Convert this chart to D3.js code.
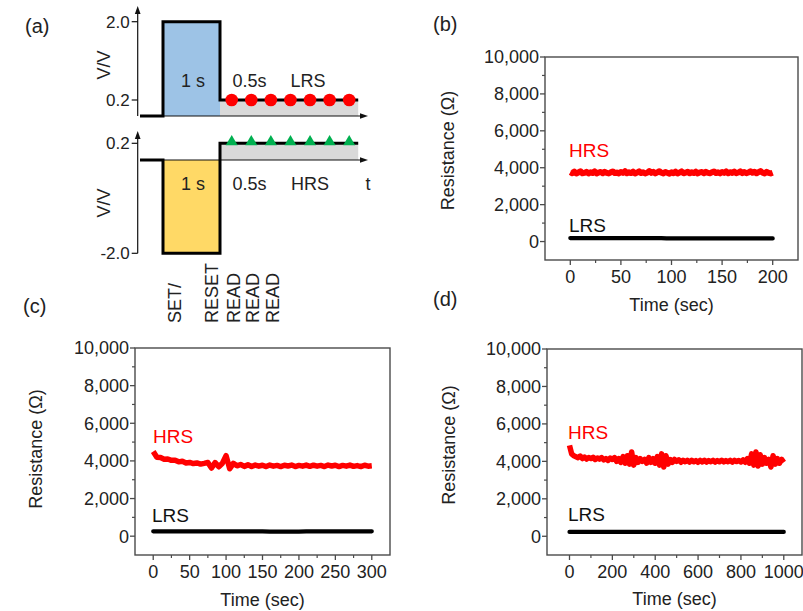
<!DOCTYPE html>
<html><head><meta charset="utf-8">
<script src="https://cdn.jsdelivr.net/npm/d3@7/dist/d3.min.js"></script>
<style>
body{margin:0;background:#fff}
svg{display:block;font-family:Arial,"Liberation Sans",Helvetica,sans-serif}
</style>
</head><body>
<svg id="chart" width="803" height="611"></svg>
<script>
// ---------------- DATA ----------------
// Panel (a): pulse schematic (time in s, voltage in V)
const setPulseT = [-0.6, 0, 0, 1, 1, 4.48];
const setPulseV = [0, 0, 2.0, 2.0, 0.2, 0.2];
const resetPulseT = [-0.6, 0, 0, 1, 1, 4.48];
const resetPulseV = [0, 0, -2.0, -2.0, 0.2, 0.2];
const readTimes = [1.25, 1.75, 2.25, 2.75, 3.25, 3.75, 4.25];
const readV = 0.2;
const upperTicks = [2.0, 0.2];
const upperTickLabels = ["2.0", "0.2"];
const lowerTicks = [0.2, -2.0];
const lowerTickLabels = ["0.2", "-2.0"];
const stepLabels = ["SET/", "RESET", "READ", "READ", "READ"];

// Resistance axes
const resTicks = [0, 2000, 4000, 6000, 8000, 10000];
const resMinor = [1000, 3000, 5000, 7000, 9000];

// Panel (b): 0-200 s
const timeTicksB = [0, 50, 100, 150, 200];
const timeMinorB = [25, 75, 125, 175];
const hrsStepB = 2;
const hrsB = [3760,3700,3790,3690,3740,3810,3700,3720,3780,3690,3760,3710,3800,3690,3740,3770,3700,3780,3720,3690,
              3750,3800,3710,3740,3690,3770,3720,3810,3700,3750,3710,3790,3690,3740,3800,3710,3760,3690,3730,3820,
              3720,3780,3690,3750,3810,3730,3690,3770,3720,3680,3750,3700,3790,3690,3740,3800,3700,3730,3780,3700,
              3760,3710,3790,3690,3750,3770,3700,3780,3720,3700,3750,3800,3710,3750,3690,3770,3720,3800,3700,3760,
              3720,3790,3700,3740,3800,3710,3770,3700,3740,3810,3730,3780,3700,3760,3820,3730,3690,3780,3720,3690,3730];
const lrsTimeB = [0, 90, 95, 200];
const lrsB = [190, 190, 170, 170];

// Panel (c): 0-300 s
const timeTicksC = [0, 50, 100, 150, 200, 250, 300];
const timeMinorC = [25, 75, 125, 175, 225, 275];
const hrsStepC = 5;
const hrsC = [4500,4200,4180,4090,4100,4030,4040,3950,3980,3890,3920,3860,3890,3830,3870,3920,3620,3910,3690,3880,
              4280,3580,3870,3740,3810,3710,3790,3700,3780,3720,3770,3700,3780,3720,3760,3700,3770,3730,3780,3700,
              3760,3720,3780,3710,3770,3720,3760,3700,3780,3730,3770,3700,3760,3720,3780,3710,3750,3700,3770,3720,3740];
const lrsTimeC = [0, 150, 160, 200, 210, 300];
const lrsC = [260, 260, 240, 240, 260, 260];

// Panel (d): 0-1000 s
const timeTicksD = [0, 200, 400, 600, 800, 1000];
const timeMinorD = [100, 300, 500, 700, 900];
const hrsStepD = 10;
const hrsD = [4850,4400,4300,4250,4200,4280,4150,4230,4120,4200,4150,4220,4100,4180,4120,4200,4080,4150,4050,4180,
              4100,4200,4000,4150,3950,4250,3900,4300,3850,4500,3800,4200,3950,4150,4000,4100,3900,4200,3950,4150,
              3900,4250,3800,4400,3700,4300,3850,4100,3950,4100,4000,4080,3950,4060,3980,4050,3960,4060,3980,4040,
              3950,4050,3970,4060,3960,4040,3980,4050,3960,4040,3980,4060,3970,4040,3980,4050,3960,4060,3990,4050,
              3970,4080,3950,4150,3900,4400,3800,4500,3750,4350,3850,4200,3900,4100,3700,4300,3850,4150,3900,4100,3950];
const lrsTimeD = [0, 1000];
const lrsD = [230, 230];

// ---------------- DRAW ----------------
const svg = d3.select("#chart");
const ink = "#222";
const frameCol = "#4a4a4a";

// Panel (a)
const ga = svg.append("g");
ga.append("text").attr("x", 25).attr("y", 33).attr("font-size", 20).attr("fill", ink).text("(a)");

const tx = d3.scaleLinear().domain([-0.6, 0, 1, 1.25, 4.73]).range([140, 163, 220, 231.7, 368]);
const yUp = d3.scaleLinear().domain([0, 0.2, 2.0]).range([116, 100, 21.7]);
const yLo = d3.scaleLinear().domain([-2.0, 0, 0.2]).range([253.3, 160, 143.3]);
const axisX = 137.7;

function arrowHead(g, x, y, dir) {
  const s = 4, l = 8;
  let pts;
  if (dir === "up") pts = [[x, y], [x - s / 1.4, y + l], [x + s / 1.4, y + l]];
  else pts = [[x, y], [x - l, y - s / 1.4], [x - l, y + s / 1.4]];
  g.append("path").attr("d", d3.line()(pts) + "Z").attr("fill", "#111");
}

function drawWave(g, ys, T, V, fillCol, yTop, yBottomAxis, ticks, tickLabels, markerType) {
  const pulse = d3.area().x(d => tx(d[0])).y0(ys(0)).y1(d => ys(d[1]));
  g.append("path").attr("d", pulse([[0, V[2]], [1, V[3]]])).attr("fill", fillCol);
  g.append("path").attr("d", pulse([[1, V[4]], [T[5], V[5]]])).attr("fill", "#d9d9d9");
  g.append("line").attr("x1", axisX).attr("x2", axisX).attr("y1", yBottomAxis).attr("y2", yTop + 6)
    .attr("stroke", "#111").attr("stroke-width", 1.2);
  arrowHead(g, axisX, yTop, "up");
  g.append("line").attr("x1", 140).attr("x2", 362).attr("y1", ys(0)).attr("y2", ys(0))
    .attr("stroke", "#111").attr("stroke-width", 1.2);
  arrowHead(g, 368, ys(0), "right");
  ticks.forEach((v, i) => {
    g.append("line").attr("x1", axisX - 6).attr("x2", axisX).attr("y1", ys(v)).attr("y2", ys(v))
      .attr("stroke", "#111").attr("stroke-width", 1.2);
    g.append("text").attr("x", axisX - 8).attr("y", ys(v)).attr("dy", "0.35em")
      .attr("text-anchor", "end").attr("font-size", 17).attr("fill", ink).text(tickLabels[i]);
  });
  const line = d3.line().x((d, i) => tx(T[i])).y((d, i) => ys(V[i]));
  g.append("path").attr("d", line(T)).attr("fill", "none").attr("stroke", "#000")
    .attr("stroke-width", 3).attr("stroke-linejoin", "miter");
  readTimes.forEach(t => {
    if (markerType === "circle") {
      g.append("circle").attr("cx", tx(t)).attr("cy", ys(readV)).attr("r", 6.3).attr("fill", "#ff0000");
    } else {
      g.append("path").attr("d", d3.symbol().type(d3.symbolTriangle).size(62)())
        .attr("transform", `translate(${tx(t)},${ys(readV) - 1.5})`).attr("fill", "#00b050");
    }
  });
}

drawWave(ga, yUp, setPulseT, setPulseV, "#9dc3e6", 6, yUp(0), upperTicks, upperTickLabels, "circle");
drawWave(ga, yLo, resetPulseT, resetPulseV, "#ffd966", 131, yLo(-2.0), lowerTicks, lowerTickLabels, "triangle");

const annot = [
  {t: "1 s", x: 193, y: 87}, {t: "0.5s", x: 249.5, y: 87}, {t: "LRS", x: 308, y: 87},
  {t: "1 s", x: 193, y: 190}, {t: "0.5s", x: 249.5, y: 190}, {t: "HRS", x: 310, y: 190}
];
annot.forEach(a => ga.append("text").attr("x", a.x).attr("y", a.y).attr("text-anchor", "middle")
  .attr("font-size", 18).attr("fill", ink).text(a.t));
ga.append("text").attr("x", 368).attr("y", 190).attr("text-anchor", "middle").attr("font-size", 18).attr("fill", ink).text("t");
[[104, 65], [104, 203]].forEach(p => ga.append("text")
  .attr("transform", `translate(${p[0]},${p[1]}) rotate(-90)`).attr("text-anchor", "middle").attr("dy", "0.35em")
  .attr("font-size", 18).attr("fill", ink).text("V/V"));
const stepX = [175, 212, 233.5, 253, 272.5];
stepLabels.forEach((s, i) => ga.append("text")
  .attr("transform", `translate(${stepX[i]},323) rotate(-90)`).attr("dy", "0.35em")
  .attr("font-size", 18).attr("fill", ink).text(s));

// Resistance panels
function panel(o) {
  const g = svg.append("g");
  const x = d3.scaleLinear().domain(o.xDomain).range([o.x0, o.x1]);
  const y = d3.scaleLinear().domain([-1000, 10000]).range([o.y1, o.y0]);
  g.append("text").attr("x", o.tag[0]).attr("y", o.tag[1]).attr("font-size", 20).attr("fill", ink).text(o.tagText);

  const hrsLine = d3.line().x((d, i) => x(i * o.step)).y(d => y(d));
  g.append("path").attr("d", hrsLine(o.hrs)).attr("fill", "none").attr("stroke", "#ff0000")
    .attr("stroke-width", o.hrsW).attr("stroke-linejoin", "round");
  const lrsLine = d3.line().x((d, i) => x(o.lrsT[i])).y(d => y(d));
  g.append("path").attr("d", lrsLine(o.lrs)).attr("fill", "none").attr("stroke", "#000")
    .attr("stroke-width", 4.2).attr("stroke-linecap", "round");

  g.append("rect").attr("x", o.x0).attr("y", o.y0).attr("width", o.x1 - o.x0).attr("height", o.y1 - o.y0)
    .attr("fill", "none").attr("stroke", frameCol).attr("stroke-width", 1.4);
  resTicks.forEach(v => {
    g.append("line").attr("x1", o.x0 - 5).attr("x2", o.x0).attr("y1", y(v)).attr("y2", y(v)).attr("stroke", frameCol).attr("stroke-width", 1.3);
    g.append("text").attr("x", o.x0 - 6).attr("y", y(v)).attr("dy", "0.36em").attr("text-anchor", "end")
      .attr("font-size", 18).attr("fill", ink).text(d3.format(",")(v));
  });
  resMinor.forEach(v => g.append("line").attr("x1", o.x0 - 3).attr("x2", o.x0).attr("y1", y(v)).attr("y2", y(v))
    .attr("stroke", frameCol).attr("stroke-width", 1.2));
  o.xTicks.forEach(v => {
    g.append("line").attr("x1", x(v)).attr("x2", x(v)).attr("y1", o.y1).attr("y2", o.y1 + 5).attr("stroke", frameCol).attr("stroke-width", 1.3);
    g.append("text").attr("x", x(v)).attr("y", o.y1 + 23).attr("text-anchor", "middle")
      .attr("font-size", 18).attr("fill", ink).text(v);
  });
  o.xMinor.forEach(v => g.append("line").attr("x1", x(v)).attr("x2", x(v)).attr("y1", o.y1).attr("y2", o.y1 + 3)
    .attr("stroke", frameCol).attr("stroke-width", 1.2));

  g.append("text").attr("transform", `translate(${o.yl[0]},${o.yl[1]}) rotate(-90)`).attr("dy", "0.35em")
    .attr("text-anchor", "middle").attr("font-size", 18).attr("fill", ink).text("Resistance (\u03A9)");
  g.append("text").attr("x", o.xl[0]).attr("y", o.xl[1]).attr("text-anchor", "middle")
    .attr("font-size", 18).attr("fill", ink).text("Time (sec)");
  g.append("text").attr("x", o.hrsL[0]).attr("y", o.hrsL[1]).attr("font-size", 19).attr("fill", "#ff0000").text("HRS");
  g.append("text").attr("x", o.lrsL[0]).attr("y", o.lrsL[1]).attr("font-size", 19).attr("fill", "#111").text("LRS");
}

panel({x0: 545, x1: 798, y0: 57, y1: 260, xDomain: [-25, 225], xTicks: timeTicksB, xMinor: timeMinorB,
  hrs: hrsB, step: hrsStepB, hrsW: 6, lrs: lrsB, lrsT: lrsTimeB,
  tag: [433, 31], tagText: "(b)", yl: [447.5, 150.5], xl: [671.5, 311], hrsL: [569, 157], lrsL: [569, 232]});
panel({x0: 135, x1: 390, y0: 348, y1: 555, xDomain: [-25, 325], xTicks: timeTicksC, xMinor: timeMinorC,
  hrs: hrsC, step: hrsStepC, hrsW: 5.5, lrs: lrsC, lrsT: lrsTimeC,
  tag: [23, 313], tagText: "(c)", yl: [35.5, 449], xl: [262.5, 606], hrsL: [153, 443], lrsL: [152, 522]});
panel({x0: 547, x1: 802, y0: 349, y1: 555, xDomain: [-105, 1085], xTicks: timeTicksD, xMinor: timeMinorD,
  hrs: hrsD, step: hrsStepD, hrsW: 5.5, lrs: lrsD, lrsT: lrsTimeD,
  tag: [433, 306], tagText: "(d)", yl: [448.5, 445], xl: [674.5, 605], hrsL: [568, 439], lrsL: [568, 521]});
</script>
</body></html>
